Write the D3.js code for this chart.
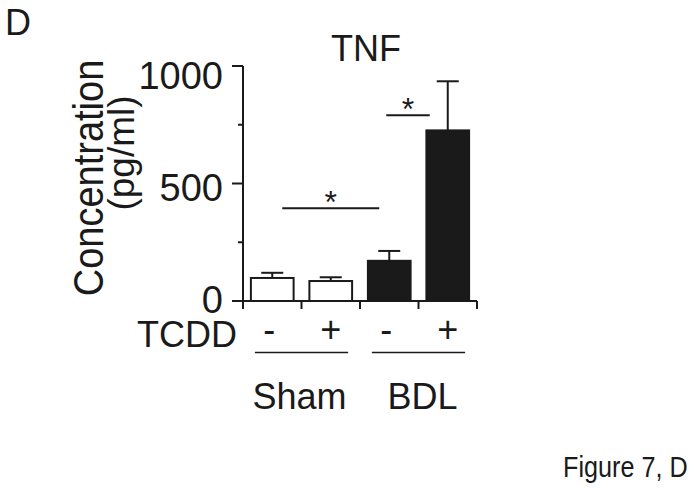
<!DOCTYPE html>
<html>
<head>
<meta charset="utf-8">
<script src="https://cdn.jsdelivr.net/npm/d3@7"></script>
<style>
  html, body { margin: 0; padding: 0; background: #fff; }
  svg { display: block; font-family: "Liberation Sans", Arial, sans-serif; }
</style>
</head>
<body>
<svg width="695" height="497"></svg>
<script>
// data
const groups = ["Sham", "BDL"];
const tcdd = ["-", "+", "-", "+"];
const means = [98, 85, 171, 726];
const errors = [22, 16, 42, 209];
const fills = ["#fff", "#fff", "#1a1a1a", "#1a1a1a"];
const majorTicks = [0, 500, 1000];
const minorTicks = [250, 750];
// significance brackets: bar a, bar b, level
const sigFrom = [0, 2];
const sigTo = [2, 3];
const sigLevel = [395, 790];

const ink = "#1a1a1a";
const svg = d3.select("svg");

const y = d3.scaleLinear().domain([0, 1000]).range([301, 66]);
// tick labels sit a bit lower on the page than the ticks themselves
const yLabel = d3.scaleLinear().domain([0, 1000]).range([313, 89]);
const x = d3.scaleBand().domain(d3.range(means.length))
  .range([243, 477]).paddingInner(0.27).paddingOuter(0.135);
const bw = x.bandwidth();
const cx = i => x(i) + bw / 2;

// y axis
svg.append("line").attr("x1", 243).attr("x2", 243)
  .attr("y1", y(1000)).attr("y2", y(0))
  .attr("stroke", ink).attr("stroke-width", 2);
svg.selectAll(".major").data(majorTicks).enter().append("line")
  .attr("x1", 232).attr("x2", 243)
  .attr("y1", d => y(d)).attr("y2", d => y(d))
  .attr("stroke", ink).attr("stroke-width", 2);
svg.selectAll(".minor").data(minorTicks).enter().append("line")
  .attr("x1", 238).attr("x2", 243)
  .attr("y1", d => y(d)).attr("y2", d => y(d))
  .attr("stroke", ink).attr("stroke-width", 2);
svg.selectAll(".ylab").data(majorTicks).enter().append("text")
  .attr("x", 223).attr("y", d => yLabel(d))
  .attr("text-anchor", "end").attr("font-size", 38).attr("fill", ink)
  .text(d => d);

// x axis
svg.append("line").attr("x1", 243).attr("x2", 477)
  .attr("y1", y(0)).attr("y2", y(0))
  .attr("stroke", ink).attr("stroke-width", 2);
svg.selectAll(".xtick").data(d3.range(means.length + 1)).enter().append("line")
  .attr("x1", i => 243 + i * x.step()).attr("x2", i => 243 + i * x.step())
  .attr("y1", y(0)).attr("y2", y(0) + 8)
  .attr("stroke", ink).attr("stroke-width", 2);

// bars
svg.selectAll(".bar").data(means).enter().append("rect")
  .attr("x", (d, i) => x(i)).attr("width", bw)
  .attr("y", d => y(d)).attr("height", d => y(0) - y(d))
  .attr("fill", (d, i) => fills[i])
  .attr("stroke", ink).attr("stroke-width", 2);

// error bars
svg.selectAll(".err").data(means).enter().append("line")
  .attr("x1", (d, i) => cx(i)).attr("x2", (d, i) => cx(i))
  .attr("y1", d => y(d)).attr("y2", (d, i) => y(d + errors[i]))
  .attr("stroke", ink).attr("stroke-width", 2);
svg.selectAll(".cap").data(means).enter().append("line")
  .attr("x1", (d, i) => cx(i) - 11).attr("x2", (d, i) => cx(i) + 11)
  .attr("y1", (d, i) => y(d + errors[i])).attr("y2", (d, i) => y(d + errors[i]))
  .attr("stroke", ink).attr("stroke-width", 2);

// significance
sigLevel.forEach((lv, k) => {
  const x1 = k === 0 ? cx(sigFrom[k]) + 10 : cx(sigFrom[k]) - 3;
  const x2 = k === 0 ? cx(sigTo[k]) - 10 : cx(sigTo[k]) - 18;
  svg.append("line").attr("x1", x1).attr("x2", x2)
    .attr("y1", y(lv)).attr("y2", y(lv))
    .attr("stroke", ink).attr("stroke-width", 2);
  svg.append("text").attr("x", (x1 + x2) / 2).attr("y", y(lv) + 5)
    .attr("text-anchor", "middle").attr("font-size", 32).attr("fill", ink)
    .text("*");
});

// title
svg.append("text").attr("x", 366).attr("y", 61)
  .attr("text-anchor", "middle").attr("font-size", 36).attr("fill", ink)
  .text("TNF");

// y label
svg.append("text")
  .attr("transform", "translate(103,178) rotate(-90) scale(1,1.1)")
  .attr("text-anchor", "middle").attr("font-size", 38).attr("fill", ink)
  .text("Concentration");
svg.append("text")
  .attr("transform", "translate(134,153) rotate(-90)")
  .attr("text-anchor", "middle").attr("font-size", 37).attr("fill", ink)
  .text("(pg/ml)");

// TCDD row
svg.append("text").attr("x", 137).attr("y", 346.5)
  .attr("font-size", 36).attr("fill", ink).text("TCDD");
svg.selectAll(".sign").data(tcdd).enter().append("text")
  .attr("x", (d, i) => cx(i) - (d === "-" ? 3 : 0)).attr("y", 342)
  .attr("text-anchor", "middle").attr("font-size", 36).attr("fill", ink)
  .text(d => d);

// group lines and labels
groups.forEach((g, k) => {
  const a = k * 2, b = k * 2 + 1;
  const x1 = x(a) + 4, x2 = x(b) + bw - 4;
  svg.append("line").attr("x1", x1).attr("x2", x2)
    .attr("y1", 352.5).attr("y2", 352.5)
    .attr("stroke", ink).attr("stroke-width", 1.6);
  svg.append("text").attr("x", (x1 + x2) / 2 + (k === 0 ? -2 : 4)).attr("y", 409)
    .attr("text-anchor", "middle").attr("font-size", 36).attr("fill", ink)
    .text(g);
});

// panel letter and caption
svg.append("text").attr("x", 5).attr("y", 34.5)
  .attr("font-size", 36).attr("fill", ink).text("D");
svg.append("text").attr("transform", "translate(563,477) scale(0.84,1)")
  .attr("font-size", 30).attr("fill", ink)
  .text("Figure 7, D");
</script>
</body>
</html>
